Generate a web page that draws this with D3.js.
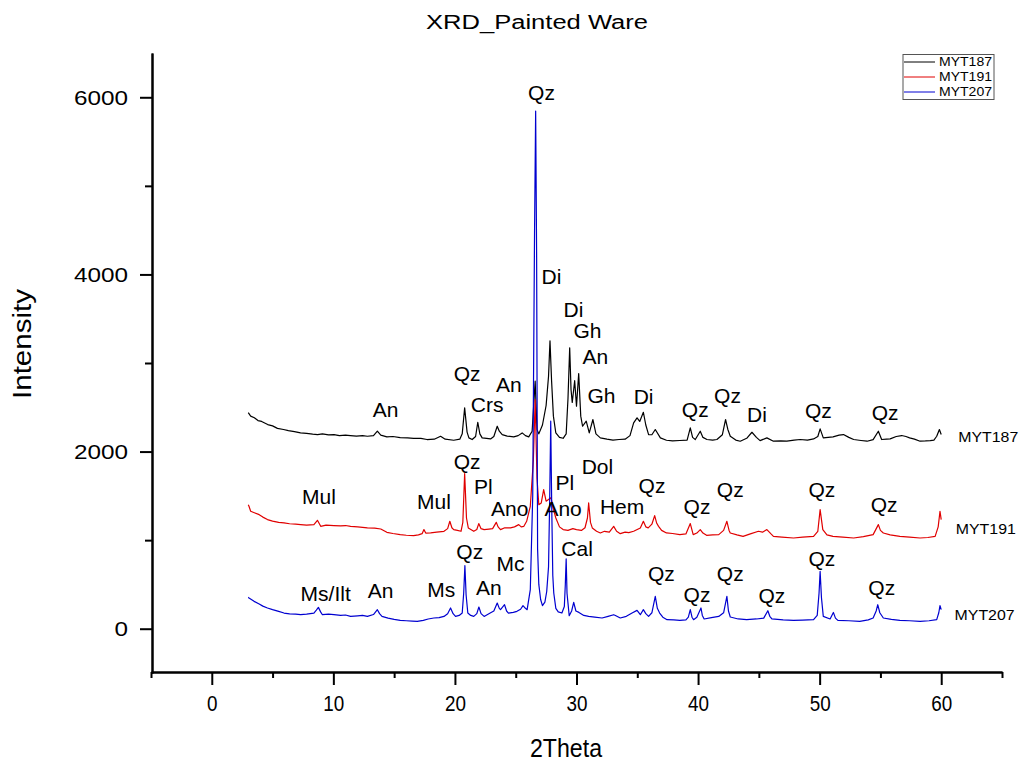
<!DOCTYPE html>
<html>
<head>
<meta charset="utf-8">
<title>XRD_Painted Ware</title>
<script src="https://cdn.jsdelivr.net/npm/d3@7/dist/d3.min.js"></script>
<style>
  body { margin: 0; background: #fff; }
  text { font-family: "Liberation Sans", Arial, sans-serif; fill: #000; }
</style>
</head>
<body>
<script>
// 2Theta / intensity pairs, one pair of arrays per sample
var theta187 = [3.0,3.2,3.5,3.8,4.1,4.6,5.0,5.4,5.9,6.3,6.8,7.3,7.8,8.3,8.7,9.1,9.6,10.05,10.5,11.0,11.4,11.9,12.4,12.8,13.3,13.62,13.9,14.4,14.9,15.5,16.1,16.6,17.2,17.7,18.3,18.82,19.2,19.9,20.4,20.6,20.8,21.0,21.15,21.42,21.7,21.88,22.05,22.24,22.6,22.93,23.2,23.48,23.65,23.89,24.3,24.84,25.2,25.53,25.8,26.07,26.35,26.6,26.75,26.9,27.2,27.5,27.7,27.82,27.95,28.1,28.3,28.6,28.9,29.15,29.3,29.44,29.55,29.65,29.85,30.0,30.18,30.35,30.5,30.8,31.05,31.35,31.6,31.96,32.5,33.0,33.5,34.0,34.4,34.7,34.98,35.2,35.5,35.7,35.93,36.2,36.48,36.9,37.4,37.9,38.5,39.1,39.36,39.55,39.77,40.18,40.4,40.73,41.2,41.55,42.0,42.26,42.45,42.65,43.1,43.47,44.0,44.43,44.8,45.1,45.66,46.2,46.8,47.3,47.9,48.4,49.0,49.5,49.85,50.04,50.3,50.7,51.1,51.6,51.96,52.4,52.8,53.4,53.9,54.4,54.83,55.1,55.5,55.8,56.3,56.75,57.1,57.4,57.8,58.26,58.7,59.1,59.4,59.63,59.85,60.0];
var int187 = [2440,2400,2381,2350,2340,2305,2290,2262,2249,2236,2225,2211,2205,2196,2192,2200,2188,2192,2180,2186,2181,2175,2180,2173,2180,2230,2185,2166,2170,2158,2155,2150,2148,2136,2140,2173,2140,2128,2140,2200,2494,2220,2155,2136,2170,2331,2200,2155,2150,2143,2170,2286,2230,2192,2175,2166,2180,2211,2180,2166,2230,2795,2250,2200,2300,2520,2850,3250,2800,2400,2210,2160,2150,2200,2600,3172,2700,2554,2800,2512,2881,2400,2286,2343,2211,2362,2200,2155,2140,2130,2136,2140,2180,2324,2381,2340,2444,2300,2192,2190,2249,2155,2128,2120,2125,2130,2268,2160,2136,2230,2160,2136,2130,2136,2190,2362,2250,2173,2130,2117,2150,2218,2160,2124,2155,2117,2120,2117,2130,2136,2130,2143,2170,2256,2155,2160,2166,2185,2192,2160,2136,2125,2117,2135,2230,2136,2140,2143,2170,2181,2170,2155,2140,2117,2120,2124,2130,2173,2249,2192];

var theta191 = [3.0,3.06,3.2,3.5,3.9,4.2,4.58,5.0,5.5,5.94,6.4,6.9,7.31,7.8,8.4,8.69,8.96,9.4,10.05,10.6,11.0,11.42,12.0,12.4,12.8,13.4,13.9,14.4,14.9,15.5,16.0,16.6,17.0,17.3,17.45,17.6,18.0,18.5,19.1,19.4,19.58,19.75,19.9,20.2,20.5,20.65,20.8,20.95,21.1,21.55,21.8,21.96,22.15,22.4,22.8,23.1,23.4,23.55,23.75,24.1,24.57,24.9,25.25,25.45,25.67,25.9,26.2,26.45,26.6,26.75,26.9,27.1,27.3,27.5,27.7,27.9,28.1,28.3,28.6,28.9,29.3,29.7,30.0,30.4,30.7,30.9,31.0,31.15,31.3,31.65,31.96,32.3,32.7,33.06,33.3,33.6,34.0,34.3,34.7,35.25,35.5,35.7,35.9,36.2,36.43,36.6,36.75,37.0,37.4,37.9,38.5,39.0,39.36,39.6,39.9,40.18,40.4,40.7,41.2,41.7,42.1,42.37,42.55,42.65,43.2,43.7,44.3,44.97,45.3,45.66,46.0,46.2,46.9,47.85,48.6,49.5,49.85,50.04,50.26,50.6,51.1,51.9,52.8,53.6,54.4,54.83,55.0,55.24,55.8,56.6,57.4,58.26,58.9,59.5,59.75,59.9,60.0];
var int191 = [1400,1382,1326,1310,1288,1260,1232,1215,1200,1194,1185,1180,1175,1170,1175,1224,1156,1170,1164,1160,1165,1156,1150,1145,1138,1135,1126,1088,1075,1062,1055,1051,1060,1073,1119,1080,1081,1090,1100,1130,1213,1140,1119,1110,1100,1200,1752,1250,1138,1100,1120,1187,1130,1119,1125,1130,1201,1150,1119,1140,1138,1150,1175,1150,1156,1213,1382,1900,2588,1700,1400,1420,1571,1440,1458,1480,1350,1250,1150,1119,1110,1130,1119,1110,1140,1250,1420,1200,1138,1100,1081,1100,1090,1156,1100,1073,1090,1085,1100,1138,1213,1150,1138,1180,1277,1190,1156,1110,1081,1075,1062,1070,1187,1062,1080,1119,1080,1054,1060,1062,1110,1213,1110,1081,1060,1043,1070,1100,1090,1119,1070,1043,1035,1024,1035,1043,1100,1345,1119,1060,1043,1035,1024,1040,1062,1175,1110,1081,1060,1043,1035,1024,1030,1043,1150,1326,1232];

var theta207 = [3.0,3.06,3.48,3.9,4.2,4.58,5.0,5.5,5.94,6.4,6.9,7.31,7.8,8.4,8.6,8.77,8.95,9.1,9.6,10.05,10.6,11.0,11.42,12.0,12.4,12.8,13.3,13.62,13.8,14.0,14.5,15.0,15.5,16.0,16.5,16.9,17.4,17.8,18.27,18.7,19.1,19.4,19.64,19.85,20.05,20.35,20.6,20.72,20.82,20.92,21.06,21.3,21.55,21.8,21.97,22.15,22.4,22.9,23.2,23.48,23.65,23.75,24.08,24.25,24.4,24.8,25.1,25.4,25.6,25.8,25.94,26.2,26.4,26.55,26.64,26.72,26.8,26.9,27.05,27.2,27.4,27.55,27.7,27.8,27.88,27.96,28.05,28.13,28.3,28.5,28.8,29.0,29.08,29.15,29.22,29.4,29.6,29.77,29.95,30.2,30.6,31.0,31.5,32.1,32.6,33.06,33.2,33.6,34.1,34.57,34.98,35.25,35.5,35.7,35.93,36.2,36.48,36.65,36.84,37.1,37.45,38.0,38.5,39.0,39.2,39.36,39.5,39.63,39.9,40.24,40.35,40.5,41.1,41.7,42.1,42.37,42.5,42.65,43.3,44.0,44.8,45.4,45.74,45.9,46.07,47.0,47.85,48.6,49.5,49.8,49.95,50.04,50.15,50.3,50.86,51.13,51.3,51.5,52.4,53.3,54.0,54.4,54.65,54.78,54.95,55.24,55.9,56.6,57.4,58.26,59.0,59.63,59.8,59.9,60.0];
var int207 = [355,347,309,280,255,234,215,195,177,168,165,158,165,177,210,241,190,158,165,158,150,155,139,145,150,139,160,215,170,139,120,105,94,90,85,82,95,110,121,125,139,170,234,170,139,150,177,400,712,380,177,150,139,170,245,170,139,177,200,290,230,215,271,200,177,185,196,220,260,230,215,441,1500,4500,5845,4200,900,500,330,260,300,420,700,1500,2343,1400,600,403,230,190,177,250,500,788,400,147,200,297,200,184,150,139,130,121,140,158,150,121,140,177,207,158,215,170,139,180,365,230,177,130,102,100,94,100,130,215,130,102,130,234,150,110,125,139,180,365,200,132,110,102,110,120,203,140,110,100,94,98,102,150,400,647,350,139,110,184,120,94,90,82,100,121,200,271,180,121,105,94,90,82,90,102,180,260,215];

var seriesNames = ["MYT187", "MYT191", "MYT207"];
var seriesColors = ["#000000", "#e00000", "#0000d0"];

// phase labels: text, 2Theta, intensity
var peakText = ["An","Qz","Crs","An","Qz","Di","Di","Gh","An","Gh","Di","Qz","Qz","Di","Qz","Qz",
                "Mul","Mul","Qz","Pl","Ano","Pl","Ano","Dol","Hem","Qz","Qz","Qz","Qz","Qz",
                "Ms/Ilt","An","Ms","Qz","Mc","An","Cal","Qz","Qz","Qz","Qz","Qz","Qz"];
var peakTheta = [14.3,21.0,22.65,24.43,27.12,27.94,29.75,30.9,31.55,32.05,35.52,39.77,42.42,44.84,49.9,55.38,
                 8.82,18.27,21.01,22.33,24.51,29.05,28.9,31.72,33.75,36.21,39.91,42.65,50.18,55.3,
                 9.37,13.89,18.87,21.22,24.57,22.79,30.05,36.98,39.91,42.65,46.07,50.18,55.11];
var peakInt = [2475,2881,2531,2757,6057,3977,3605,3367,3073,2633,2625,2475,2633,2418,2467,2437,
               1495,1438,1890,1608,1353,1650,1360,1831,1382,1616,1382,1571,1571,1401,
               395,433,441,873,742,471,901,621,384,629,373,788,471];

// sample names written at the right end of each trace
var endTheta = [61.4, 61.2, 61.1];
var endInt = [2170, 1130, 158];

var xMajor = [0, 10, 20, 30, 40, 50, 60];
var xMinor = [-5, 5, 15, 25, 35, 45, 55, 65];
var yMajor = [0, 2000, 4000, 6000];
var yMinor = [1000, 3000, 5000];

var width = 1024, height = 765;

var svg = d3.select("body").append("svg")
    .attr("width", width)
    .attr("height", height);

var x = d3.scaleLinear().domain([-5, 65]).range([151, 1002]);
var y = d3.scaleLinear().domain([-500, 6500]).range([673, 53]);

var line = d3.line()
    .x(function(d) { return x(d[0]); })
    .y(function(d) { return y(d[1]); });

var thetas = [theta187, theta191, theta207];
var ints = [int187, int191, int207];

// traces, MYT207 drawn last so its big quartz peak sits on top
thetas.forEach(function(t, k) {
  var pts = t.map(function(v, i) { return [v, ints[k][i]]; });
  svg.append("path")
      .datum(pts)
      .attr("fill", "none")
      .attr("stroke", seriesColors[k])
      .attr("stroke-width", 1.2)
      .attr("stroke-linejoin", "round")
      .attr("d", line);
});

// axes
var xAxisMinor = d3.axisBottom(x).tickValues(xMinor).tickSize(6).tickSizeOuter(0).tickFormat("");
var xAxis = d3.axisBottom(x).tickValues(xMajor).tickSize(13).tickSizeOuter(0).tickPadding(10);
var yAxisMinor = d3.axisLeft(y).tickValues(yMinor).tickSize(7).tickSizeOuter(0).tickFormat("");
var yAxis = d3.axisLeft(y).tickValues(yMajor).tickSize(12).tickSizeOuter(0).tickPadding(12)
    .tickFormat(d3.format("d"));

function styleAxis(g) {
  g.selectAll("path, line").attr("stroke", "#000").attr("stroke-width", 2);
}

var gx = svg.append("g").attr("transform", "translate(0,672)");
gx.append("g").call(xAxisMinor).call(styleAxis);
gx.append("g").call(xAxis).call(styleAxis);
gx.selectAll("text")
    .attr("font-size", 22)
    .attr("font-family", "Liberation Sans, Arial, sans-serif")
    .attr("textLength", function(d) { return String(d).length * 10.5; })
    .attr("lengthAdjust", "spacingAndGlyphs");

var gy = svg.append("g").attr("transform", "translate(152,0)");
gy.append("g").call(yAxisMinor).call(styleAxis);
gy.append("g").call(yAxis).call(styleAxis);
gy.selectAll("text")
    .attr("font-size", 21)
    .attr("font-family", "Liberation Sans, Arial, sans-serif")
    .attr("textLength", function(d) { return String(d).length * 13.5; })
    .attr("lengthAdjust", "spacingAndGlyphs");

// titles
svg.append("text")
    .attr("x", 537).attr("y", 29)
    .attr("text-anchor", "middle")
    .attr("font-size", 20)
    .attr("textLength", 222).attr("lengthAdjust", "spacingAndGlyphs")
    .text("XRD_Painted Ware");

svg.append("text")
    .attr("x", 566).attr("y", 757)
    .attr("text-anchor", "middle")
    .attr("font-size", 26)
    .attr("textLength", 72).attr("lengthAdjust", "spacingAndGlyphs")
    .text("2Theta");

svg.append("text")
    .attr("transform", "translate(31,344) rotate(-90)")
    .attr("text-anchor", "middle")
    .attr("font-size", 26)
    .attr("textLength", 110).attr("lengthAdjust", "spacingAndGlyphs")
    .text("Intensity");

// phase labels
svg.append("g").selectAll("text")
    .data(peakText)
    .enter().append("text")
    .attr("x", function(d, i) { return x(peakTheta[i]); })
    .attr("y", function(d, i) { return y(peakInt[i]); })
    .attr("dy", "0.36em")
    .attr("text-anchor", "middle")
    .attr("font-size", 21)
    .text(function(d) { return d; });

// sample names at the trace ends
svg.append("g").selectAll("text")
    .data(seriesNames)
    .enter().append("text")
    .attr("x", function(d, i) { return x(endTheta[i]); })
    .attr("y", function(d, i) { return y(endInt[i]); })
    .attr("dy", "0.36em")
    .attr("font-size", 14)
    .attr("textLength", 60).attr("lengthAdjust", "spacingAndGlyphs")
    .text(function(d) { return d; });

// legend
var legend = svg.append("g");
legend.append("rect")
    .attr("x", 903).attr("y", 54.5)
    .attr("width", 91).attr("height", 45)
    .attr("fill", "#fff")
    .attr("stroke", "#555").attr("stroke-width", 1);
seriesNames.forEach(function(name, i) {
  var ly = 62 + i * 15;
  legend.append("line")
      .attr("x1", 904).attr("x2", 935)
      .attr("y1", ly).attr("y2", ly)
      .attr("stroke", seriesColors[i]).attr("stroke-width", 1);
  legend.append("text")
      .attr("x", 992).attr("y", ly)
      .attr("dy", "0.36em")
      .attr("text-anchor", "end")
      .attr("font-size", 12)
      .attr("textLength", 53).attr("lengthAdjust", "spacingAndGlyphs")
      .text(name);
});
</script>
</body>
</html>
